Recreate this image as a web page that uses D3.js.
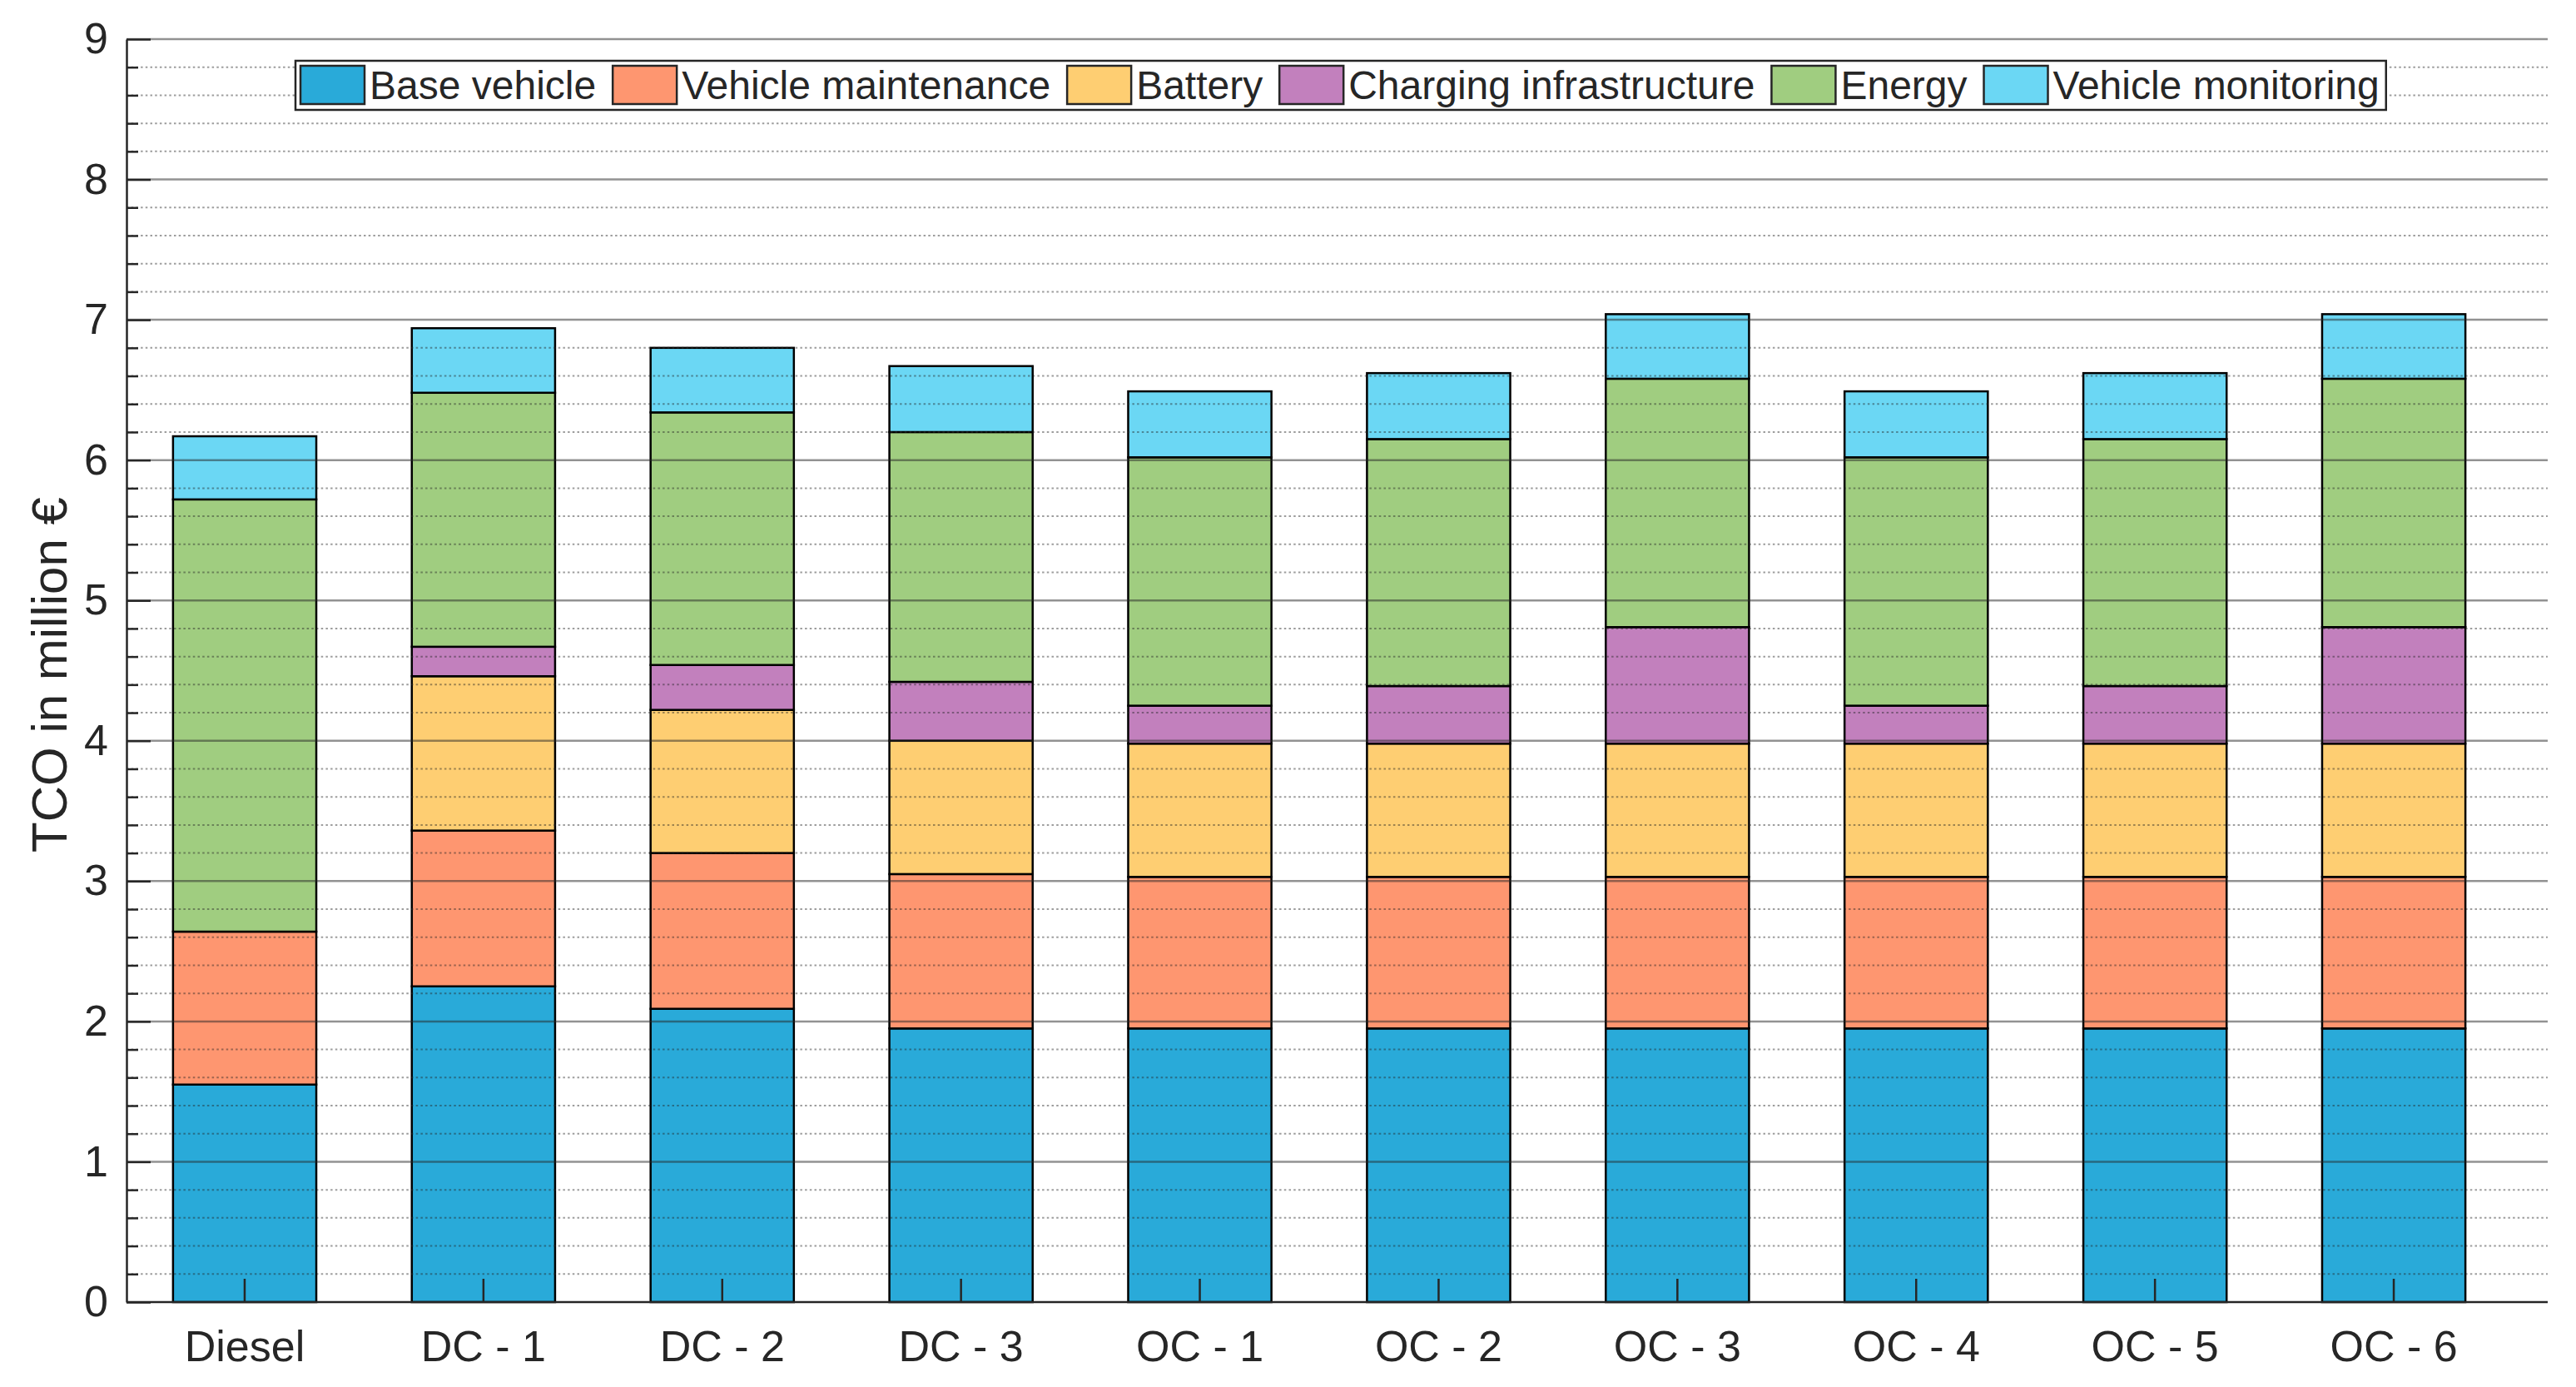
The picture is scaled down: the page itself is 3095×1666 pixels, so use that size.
<!DOCTYPE html>
<html>
<head>
<meta charset="utf-8">
<script src="https://cdn.jsdelivr.net/npm/d3@7"></script>
<style>
  body { margin: 0; background: #fff; }
  text { font-family: "Liberation Sans", Arial, sans-serif; fill: #262626; }
</style>
</head>
<body>
<div id="chart"></div>
<script>
// values, million €
const categories = ["Diesel", "DC - 1", "DC - 2", "DC - 3", "OC - 1", "OC - 2", "OC - 3", "OC - 4", "OC - 5", "OC - 6"];
const seriesNames = ["Base vehicle", "Vehicle maintenance", "Battery", "Charging infrastructure", "Energy", "Vehicle monitoring"];
const seriesColors = ["#29aad9", "#fe9670", "#fece72", "#c280bd", "#a0cd80", "#6bd7f4"];

const baseVehicle = [1.55, 2.25, 2.09, 1.95, 1.95, 1.95, 1.95, 1.95, 1.95, 1.95];
const maintenance = [1.09, 1.11, 1.11, 1.10, 1.08, 1.08, 1.08, 1.08, 1.08, 1.08];
const battery     = [0.00, 1.10, 1.02, 0.95, 0.95, 0.95, 0.95, 0.95, 0.95, 0.95];
const charging    = [0.00, 0.21, 0.32, 0.42, 0.27, 0.41, 0.83, 0.27, 0.41, 0.83];
const energy      = [3.08, 1.81, 1.80, 1.78, 1.77, 1.76, 1.77, 1.77, 1.76, 1.77];
const monitoring  = [0.45, 0.46, 0.46, 0.47, 0.47, 0.47, 0.46, 0.47, 0.47, 0.46];

const yTicks = [0, 1, 2, 3, 4, 5, 6, 7, 8, 9];

let width = 3095, height = 1666;
let axLeft = 152, axRight = 3061, axTop = 47, axBottom = 1564;

let rows = categories.map((c, i) => ({
    cat: c,
    "Base vehicle": baseVehicle[i],
    "Vehicle maintenance": maintenance[i],
    "Battery": battery[i],
    "Charging infrastructure": charging[i],
    "Energy": energy[i],
    "Vehicle monitoring": monitoring[i]
}));

let stack = d3.stack().keys(seriesNames)(rows);

let x = d3.scaleBand()
    .domain(categories)
    .range([150.5, 3019.5])
    .paddingInner(0.4)
    .paddingOuter(0.2);

let y = d3.scaleLinear().domain([0, 9]).range([axBottom, axTop]);

let color = d3.scaleOrdinal().domain(seriesNames).range(seriesColors);

let svg = d3.select("#chart").append("svg")
    .attr("width", width)
    .attr("height", height);

// bars
svg.append("g").selectAll("g")
    .data(stack)
    .join("g")
    .attr("fill", d => color(d.key))
    .selectAll("rect")
    .data(d => d)
    .join("rect")
    .attr("x", d => x(d.data.cat))
    .attr("width", x.bandwidth())
    .attr("y", d => y(d[1]))
    .attr("height", d => y(d[0]) - y(d[1]))
    .attr("stroke", "#000")
    .attr("stroke-width", 2.5);

// grid on top of the bars
let minorVals = d3.range(0, 9.001, 0.2).filter(v => Math.abs(v - Math.round(v)) > 0.01);

svg.append("g").selectAll("line")
    .data(minorVals)
    .join("line")
    .attr("x1", axLeft).attr("x2", axRight)
    .attr("y1", d => y(d)).attr("y2", d => y(d))
    .attr("stroke", "#262626")
    .attr("stroke-opacity", 0.45)
    .attr("stroke-width", 2)
    .attr("stroke-dasharray", "2.5,3.2");

svg.append("g").selectAll("line")
    .data(yTicks.slice(1))
    .join("line")
    .attr("x1", axLeft).attr("x2", axRight)
    .attr("y1", d => y(d)).attr("y2", d => y(d))
    .attr("stroke", "#262626")
    .attr("stroke-opacity", 0.5)
    .attr("stroke-width", 2.5);

// y axis
let yAxis = svg.append("g")
    .attr("transform", "translate(" + axLeft + ",0)")
    .call(d3.axisLeft(y).tickValues(yTicks).tickSize(-29).tickSizeOuter(0).tickPadding(22));

svg.append("g")
    .attr("transform", "translate(" + axLeft + ",0)")
    .call(d3.axisLeft(y).tickValues(minorVals).tickSize(-14).tickFormat(""))
    .call(g => g.select(".domain").remove());

yAxis.selectAll("text")
    .style("font-size", "52px")
    .style("font-family", "'Liberation Sans', Arial, sans-serif")
    .attr("fill", "#262626");

svg.selectAll(".tick line, .domain")
    .attr("stroke", "#262626")
    .attr("stroke-width", 2.5);

// x axis
let xAxis = svg.append("g")
    .attr("transform", "translate(0," + axBottom + ")")
    .call(d3.axisBottom(x).tickSize(-28).tickPadding(34).tickSizeOuter(0));

xAxis.select(".domain").remove();
xAxis.selectAll(".tick line").attr("stroke", "#262626").attr("stroke-width", 2.5);
xAxis.selectAll("text")
    .style("font-size", "52px")
    .style("font-family", "'Liberation Sans', Arial, sans-serif")
    .attr("fill", "#262626");

svg.append("line")
    .attr("x1", axLeft).attr("x2", axRight)
    .attr("y1", axBottom).attr("y2", axBottom)
    .attr("stroke", "#262626")
    .attr("stroke-width", 2.5);

// y label
svg.append("text")
    .attr("transform", "translate(80," + ((axTop + axBottom) / 2 + 5) + ") rotate(-90)")
    .attr("text-anchor", "middle")
    .style("font-size", "60px")
    .text("TCO in million €");

// legend
let legend = svg.append("g");
let legBox = legend.append("rect")
    .attr("x", 355).attr("y", 73)
    .attr("height", 59)
    .attr("fill", "#fff")
    .attr("stroke", "#262626")
    .attr("stroke-width", 2.5);

let lx = 361;
seriesNames.forEach((name, i) => {
    legend.append("rect")
        .attr("x", lx).attr("y", 79)
        .attr("width", 77).attr("height", 46)
        .attr("fill", color(name))
        .attr("stroke", "#262626")
        .attr("stroke-width", 2.5);
    let t = legend.append("text")
        .attr("x", lx + 83)
        .attr("y", 119)
        .style("font-size", "48px")
        .text(name);
    lx += 83 + t.node().getComputedTextLength() + 20;
});
legBox.attr("width", lx - 20 + 8 - 355);
</script>
</body>
</html>
